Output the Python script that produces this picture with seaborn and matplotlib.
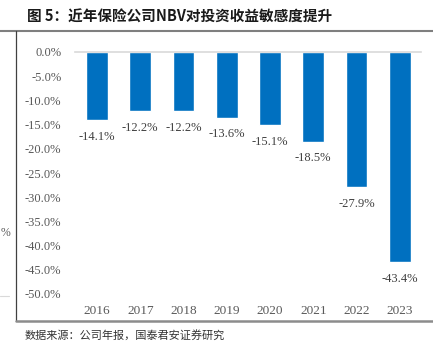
import matplotlib
matplotlib.use("Agg")
import matplotlib.pyplot as plt
from matplotlib.lines import Line2D
import seaborn as sns
import pandas as pd

years = ["2016", "2017", "2018", "2019", "2020", "2021", "2022", "2023"]
sensitivity = [-14.1, -12.2, -12.2, -13.6, -15.1, -18.5, -27.9, -43.4]
y_ticks = [0, -5, -10, -15, -20, -25, -30, -35, -40, -45, -50]

title_text = "图 5：近年保险公司NBV对投资收益敏感度提升"
source_text = "数据来源：公司年报，国泰君安证券研究"

sns.set_theme(style="white")
plt.rcParams["font.family"] = ["Liberation Serif", "Noto Sans CJK SC"]

df = pd.DataFrame({"year": years, "value": sensitivity})

W, H = 433, 343
fig = plt.figure(figsize=(W / 100, H / 100), dpi=100)
ax = fig.add_axes([75.4 / W, 1 - 294 / H, 346 / W, 242 / H])

sns.barplot(data=df, x="year", y="value", color="#0070C0", saturation=1,
            width=0.5, ax=ax, zorder=2)

ax.set_ylim(-50, 0)
ax.set_xlim(-0.5, 7.5)
ax.set_yticks(y_ticks)
ax.set_yticklabels([f"{v:.1f}%" for v in y_ticks])
ax.set_xlabel("")
ax.set_ylabel("")
ax.tick_params(axis="y", length=0, pad=10, labelsize=9, labelcolor="#595959")
ax.tick_params(axis="x", length=0, pad=8, labelsize=9.5, labelcolor="#595959")

for s in ["left", "right", "bottom"]:
    ax.spines[s].set_visible(False)
ax.spines["top"].set_color("#D9D9D9")
ax.spines["top"].set_linewidth(1.2)

for i, v in enumerate(sensitivity):
    ax.annotate(f"{v:.1f}%", xy=(i, v), xytext=(0, -12), textcoords="offset points",
                ha="center", va="center", fontsize=9, color="#404040")

# report frame: title rule, left rule, bottom rule
fig.add_artist(Line2D([0, 1], [1 - 31 / H, 1 - 31 / H], color="#7F7F7F", lw=1.5))
fig.add_artist(Line2D([16 / W, 16 / W], [1 - 321 / H, 1 - 31 / H], color="#404040", lw=0.9))
fig.add_artist(Line2D([16 / W, 1], [1 - 321 / H, 1 - 321 / H], color="#8C8C8C", lw=1.8))
fig.add_artist(Line2D([0, 9 / W], [1 - 296 / H, 1 - 296 / H], color="#D9D9D9", lw=0.8))

fig.text(0.5 / W, 1 - 233 / H, "%", fontsize=8.5, color="#595959", ha="left", va="center")

fig.text(27 / W, 1 - 17 / H, title_text, fontsize=10.5, fontweight="bold",
         family=["Noto Sans CJK SC"], color="#1A1A1A", ha="left", va="center")
fig.text(25 / W, 1 - 335 / H, source_text, fontsize=8,
         family=["Noto Sans CJK SC"], color="#333333", ha="left", va="center")

fig.savefig("out.png", dpi=100)
